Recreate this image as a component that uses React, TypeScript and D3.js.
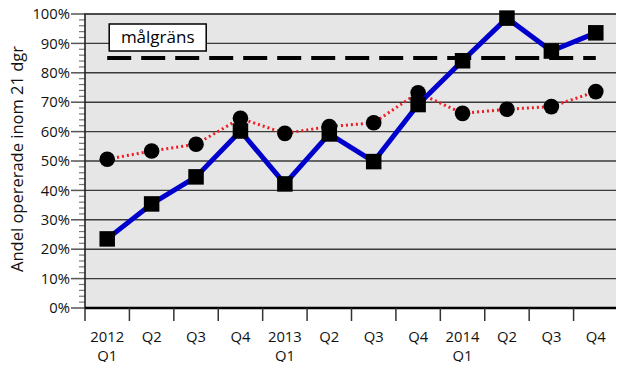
import { useEffect, useRef } from "react";
import * as d3 from "d3";

const quarters = ["Q1", "Q2", "Q3", "Q4", "Q1", "Q2", "Q3", "Q4", "Q1", "Q2", "Q3", "Q4"];
const yearLabels = ["2012", "Q2", "Q3", "Q4", "2013", "Q2", "Q3", "Q4", "2014", "Q2", "Q3", "Q4"];
const subLabels = ["Q1", "", "", "", "Q1", "", "", "", "Q1", "", "", ""];
const blueValues = [23.5, 35.4, 44.6, 60.2, 42.2, 59.2, 49.8, 69.2, 84.1, 98.6, 87.4, 93.6];
const redValues = [50.6, 53.4, 55.7, 64.5, 59.4, 61.7, 63.0, 73.2, 66.2, 67.6, 68.5, 73.6];
const target = 85;
const yTicks = [0, 10, 20, 30, 40, 50, 60, 70, 80, 90, 100];

const W = 624;
const H = 370;
const m = { left: 85, right: 6, top: 14, bottom: 62 };
const font = "'Open Sans', sans-serif";

export default function App() {
  const svgRef = useRef<SVGSVGElement | null>(null);

  useEffect(() => {
    if (!svgRef.current) return;
    const svg = d3.select(svgRef.current);
    svg.selectAll("*").remove();

    const keys = quarters.map((_, i) => String(i));
    const x = d3.scaleBand().domain(keys).range([m.left, W - m.right]);
    const y = d3.scaleLinear().domain([0, 100]).range([H - m.bottom, m.top]);
    const cx = (i: number) => x(String(i))! + x.bandwidth() / 2;

    // plot background
    svg
      .append("rect")
      .attr("x", m.left)
      .attr("y", m.top)
      .attr("width", W - m.right - m.left)
      .attr("height", H - m.bottom - m.top)
      .attr("fill", "#e6e6e6");

    // gridlines
    svg
      .append("g")
      .selectAll("line")
      .data(yTicks.slice(1, -1))
      .enter()
      .append("line")
      .attr("x1", m.left)
      .attr("x2", W - m.right)
      .attr("y1", (d) => y(d))
      .attr("y2", (d) => y(d))
      .attr("stroke", "#3a3a3a")
      .attr("stroke-width", 1.4);

    // minor ticks
    const minor = d3.range(0, 101, 2).filter((v) => v % 10 !== 0);
    svg
      .append("g")
      .selectAll("line")
      .data(minor)
      .enter()
      .append("line")
      .attr("x1", m.left - 6)
      .attr("x2", m.left)
      .attr("y1", (d) => y(d))
      .attr("y2", (d) => y(d))
      .attr("stroke", "#777")
      .attr("stroke-width", 1.2);

    // major ticks + labels
    const yg = svg.append("g");
    yg.selectAll("line")
      .data(yTicks)
      .enter()
      .append("line")
      .attr("x1", m.left - 14)
      .attr("x2", m.left)
      .attr("y1", (d) => y(d))
      .attr("y2", (d) => y(d))
      .attr("stroke", "#555")
      .attr("stroke-width", 1.5);
    yg.selectAll("text")
      .data(yTicks)
      .enter()
      .append("text")
      .attr("x", m.left - 15)
      .attr("y", (d) => y(d))
      .attr("dy", "0.35em")
      .attr("text-anchor", "end")
      .style("font", `14.8px ${font}`)
      .attr("fill", "#111")
      .text((d) => `${d}%`);

    // frame
    svg
      .append("rect")
      .attr("x", m.left)
      .attr("y", m.top)
      .attr("width", W - m.right - m.left)
      .attr("height", H - m.bottom - m.top)
      .attr("fill", "none")
      .attr("stroke", "#222")
      .attr("stroke-width", 1.6);
    svg
      .append("line")
      .attr("x1", m.left)
      .attr("x2", W - m.right)
      .attr("y1", y(0))
      .attr("y2", y(0))
      .attr("stroke", "#000")
      .attr("stroke-width", 2.5);

    // x ticks at band boundaries
    const bounds = d3.range(quarters.length + 1).map((i) =>
      i < quarters.length ? x(String(i))! : W - m.right
    );
    svg
      .append("g")
      .selectAll("line")
      .data(bounds)
      .enter()
      .append("line")
      .attr("x1", (d) => d)
      .attr("x2", (d) => d)
      .attr("y1", y(0))
      .attr("y2", y(0) + 13)
      .attr("stroke", "#333")
      .attr("stroke-width", 1.5);

    const xl = svg.append("g");
    xl.selectAll("text.l1")
      .data(yearLabels)
      .enter()
      .append("text")
      .attr("x", (_, i) => cx(i))
      .attr("y", y(0) + 34)
      .attr("text-anchor", "middle")
      .style("font", `14.8px ${font}`)
      .attr("fill", "#111")
      .text((d) => d);
    xl.selectAll("text.l2")
      .data(subLabels)
      .enter()
      .append("text")
      .attr("x", (_, i) => cx(i))
      .attr("y", y(0) + 53)
      .attr("text-anchor", "middle")
      .style("font", `14.8px ${font}`)
      .attr("fill", "#111")
      .text((d) => d);

    // y axis title
    svg
      .append("text")
      .attr("transform", `translate(23, ${(m.top + H - m.bottom) / 2 - 2}) rotate(-90)`)
      .attr("text-anchor", "middle")
      .style("font", `16.5px ${font}`)
      .attr("fill", "#111")
      .text("Andel opererade inom 21 dgr");

    // target dashed line
    svg
      .append("line")
      .attr("x1", cx(0))
      .attr("x2", cx(quarters.length - 1))
      .attr("y1", y(target))
      .attr("y2", y(target))
      .attr("stroke", "#000")
      .attr("stroke-width", 4)
      .attr("stroke-dasharray", "24,10");

    // label box
    const lg = svg.append("g").attr("transform", `translate(${cx(0) + 2}, 24)`);
    lg.append("rect")
      .attr("width", 97)
      .attr("height", 27)
      .attr("fill", "#fff")
      .attr("stroke", "#000")
      .attr("stroke-width", 1.5);
    lg.append("text")
      .attr("x", 48.5)
      .attr("y", 13.5)
      .attr("dy", "0.35em")
      .attr("text-anchor", "middle")
      .style("font", `17px ${font}`)
      .attr("fill", "#000")
      .text("målgräns");

    const line = d3
      .line<number>()
      .x((_, i) => cx(i))
      .y((d) => y(d));

    // red dotted series
    svg
      .append("path")
      .datum(redValues)
      .attr("d", line)
      .attr("fill", "none")
      .attr("stroke", "#ee1c24")
      .attr("stroke-width", 3)
      .attr("stroke-dasharray", "2,3");
    svg
      .append("g")
      .selectAll("circle")
      .data(redValues)
      .enter()
      .append("circle")
      .attr("cx", (_, i) => cx(i))
      .attr("cy", (d) => y(d))
      .attr("r", 7.8)
      .attr("fill", "#000");

    // blue series
    svg
      .append("path")
      .datum(blueValues)
      .attr("d", line)
      .attr("fill", "none")
      .attr("stroke", "#0000cc")
      .attr("stroke-width", 5)
      .attr("stroke-linejoin", "round");
    const s = 15.5;
    svg
      .append("g")
      .selectAll("rect")
      .data(blueValues)
      .enter()
      .append("rect")
      .attr("x", (_, i) => cx(i) - s / 2)
      .attr("y", (d) => y(d) - s / 2)
      .attr("width", s)
      .attr("height", s)
      .attr("fill", "#000");
  }, []);

  return (
    <div style={{ margin: -8, width: W, height: H, background: "#fff" }}>
      <svg ref={svgRef} width={W} height={H} style={{ display: "block" }} />
    </div>
  );
}
